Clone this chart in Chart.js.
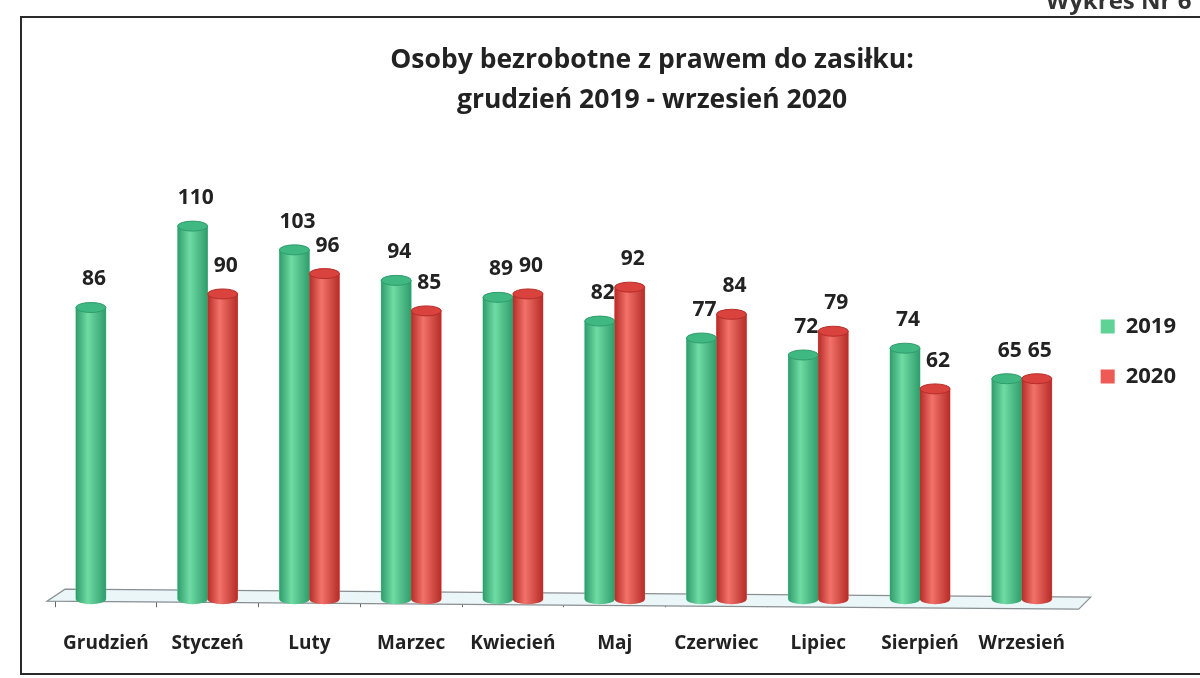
<!DOCTYPE html>
<html>
<head>
<meta charset="utf-8">
<script src="https://cdn.jsdelivr.net/npm/chart.js@4.4.0/dist/chart.umd.min.js"></script>
<style>
  html, body { margin: 0; padding: 0; background: #fff; }
  #wrap { position: relative; width: 1200px; height: 678px; overflow: hidden; }
  #frame { position: absolute; left: 20px; top: 16px; width: 1200px; height: 655px; border: 2px solid #2a2a2a; pointer-events: none; }
  #nr { position: absolute; left: 1046px; top: -17px; font: bold 24px 'Open Sans'; color: #333; white-space: nowrap; }
  canvas { position: absolute; left: 0; top: 0; }
</style>
</head>
<body>
<div id="wrap">
  <canvas id="chart" width="1200" height="678"></canvas>
  <div id="frame"></div>
  <div id="nr">Wykres Nr 6</div>
</div>
<script>
const months = ['Grudzień', 'Styczeń', 'Luty', 'Marzec', 'Kwiecień', 'Maj', 'Czerwiec', 'Lipiec', 'Sierpień', 'Wrzesień']
const values2019 = [86, 110, 103, 94, 89, 82, 77, 72, 74, 65]
const values2020 = [null, 90, 96, 85, 90, 92, 84, 79, 62, 65]
const titleLines = ['Osoby bezrobotne z prawem do zasiłku:', 'grudzień 2019 - wrzesień 2020']

const shades = {
    '2019': ['#2f9c6c', '#6fdca4', '#3fb881'],
    '2020': ['#b72c28', '#f2726a', '#d9423d'],
}

// title drawn by hand so it can sit right of the canvas centre, like the scan
const titlePlugin = {
    id: 'titleText',
    beforeDraw(chart) {
        const ctx = chart.ctx
        ctx.save()
        ctx.font = 'bold 26.5px "Open Sans"'
        ctx.fillStyle = '#222'
        ctx.textAlign = 'center'
        ctx.textBaseline = 'middle'
        titleLines.forEach((t, i) => ctx.fillText(t, 652, 60 + i * 40))
        ctx.restore()
    }
}

// thin 3D floor under the bars
const floorPlugin = {
    id: 'floor',
    beforeDatasetsDraw(chart) {
        const a = chart.chartArea
        const ctx = chart.ctx
        ctx.save()
        ctx.beginPath()
        ctx.moveTo(a.left + 10, a.bottom - 10)
        ctx.lineTo(a.right + 18, a.bottom - 2)
        ctx.lineTo(a.right + 6, a.bottom + 10)
        ctx.lineTo(a.left - 8, a.bottom + 2)
        ctx.closePath()
        ctx.fillStyle = '#eaf6f8'
        ctx.fill()
        ctx.strokeStyle = '#8a8f92'
        ctx.lineWidth = 1.2
        ctx.stroke()
        ctx.restore()
    }
}

// repaint each bar as a shaded cylinder and put the value above it
const cylinderPlugin = {
    id: 'cylinders',
    afterDatasetsDraw(chart) {
        const ctx = chart.ctx
        chart.data.datasets.forEach((ds, di) => {
            const meta = chart.getDatasetMeta(di)
            const sh = shades[ds.label]
            meta.data.forEach((bar, i) => {
                if (ds.data[i] == null) return
                const w = bar.width, x0 = bar.x - w / 2, top = bar.y, base = bar.base
                const ry = 5
                const g = ctx.createLinearGradient(x0, 0, x0 + w, 0)
                g.addColorStop(0, sh[0])
                g.addColorStop(0.4, sh[1])
                g.addColorStop(1, sh[0])
                ctx.save()
                ctx.fillStyle = g
                ctx.beginPath()
                ctx.moveTo(x0, top)
                ctx.lineTo(x0, base)
                ctx.ellipse(bar.x, base, w / 2, ry, 0, Math.PI, 0, true)
                ctx.lineTo(x0 + w, top)
                ctx.closePath()
                ctx.fill()
                ctx.fillStyle = sh[2]
                ctx.beginPath()
                ctx.ellipse(bar.x, top, w / 2, ry, 0, 0, Math.PI * 2)
                ctx.fill()
                ctx.strokeStyle = sh[0]
                ctx.lineWidth = 1
                ctx.stroke()
                ctx.font = 'bold 21px "Open Sans"'
                ctx.fillStyle = '#222'
                ctx.textAlign = 'center'
                ctx.textBaseline = 'middle'
                ctx.fillText(ds.data[i], bar.x + 3, top - 28)
                ctx.restore()
            })
        })
    }
}

new Chart(document.getElementById('chart'), {
    type: 'bar',
    data: {
        labels: months,
        datasets: [
            { label: '2019', data: values2019, backgroundColor: '#5fd295', barThickness: 30 },
            { label: '2020', data: values2020, backgroundColor: '#ee5a55', barThickness: 30 },
        ]
    },
    options: {
        responsive: false,
        animation: false,
        layout: { padding: { top: 104, left: 55, right: 14, bottom: -2 } },
        scales: {
            x: {
                grid: { display: true, drawOnChartArea: false, drawTicks: true, tickLength: 8, color: '#666' },
                border: { display: true, color: '#8a8f92' },
                ticks: { color: '#222', padding: 25, font: { family: 'Open Sans', size: 19, weight: 'bold' } },
            },
            y: { display: false, min: 0, max: 146 },
        },
        plugins: {
            legend: {
                position: 'right',
                fullSize: false,
                labels: {
                    boxWidth: 14, boxHeight: 14, padding: 28, color: '#222',
                    font: { family: 'Open Sans', size: 22, weight: 'bold' },
                },
            },
            tooltip: { enabled: false },
        },
    },
    plugins: [titlePlugin, floorPlugin, cylinderPlugin],
})
</script>
</body>
</html>
